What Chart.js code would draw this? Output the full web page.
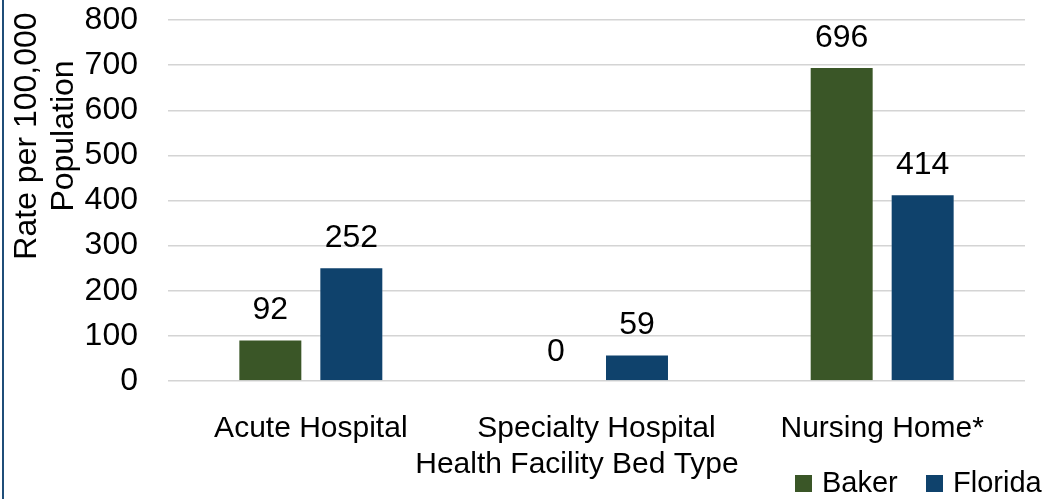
<!DOCTYPE html>
<html>
<head>
<meta charset="utf-8">
<script src="https://cdn.jsdelivr.net/npm/chart.js@4"></script>
<style>
  html, body { margin: 0; padding: 0; background: #fff; }
  #wrap { width: 1047px; height: 499px; position: relative; }
</style>
</head>
<body>
<div id="wrap"><canvas id="chart"></canvas></div>
<script>
// datos del grafico
const categories = ['Acute Hospital', 'Specialty Hospital', 'Nursing Home*'];
const bakerValues = [92, 0, 696];
const floridaValues = [252, 59, 414];
const yTicks = [0, 100, 200, 300, 400, 500, 600, 700, 800];

const FONT = '"Liberation Sans", Arial, sans-serif';
const green = '#3a5627', blue = '#0f426c';

// titulos, etiquetas, leyenda y borde izquierdo
const extras = {
    id: 'extras',
    afterDatasetsDraw(chart) {
        const ctx = chart.ctx;
        ctx.save();
        ctx.fillStyle = '#000';
        ctx.font = '32px ' + FONT;
        ctx.textAlign = 'center';
        ctx.textBaseline = 'alphabetic';
        chart.data.datasets.forEach((ds, i) => {
            chart.getDatasetMeta(i).data.forEach((bar, j) => {
                ctx.fillText(String(ds.data[j]), bar.x, bar.y - 20);
            });
        });

        // eixo Y
        ctx.save();
        ctx.translate(0, 136);
        ctx.rotate(-Math.PI / 2);
        ctx.fillText('Rate per 100,000', 0, 36);
        ctx.fillText('Population', 0, 73);
        ctx.restore();

        // eixo X
        ctx.font = '30px ' + FONT;
        ctx.fillText('Health Facility Bed Type', 577, 473);

        // legenda
        ctx.font = '29px ' + FONT;
        ctx.textAlign = 'left';
        const lx = [795, 926];
        chart.data.datasets.forEach((ds, i) => {
            ctx.fillStyle = ds.backgroundColor;
            ctx.fillRect(lx[i], 475, 17, 17);
            ctx.fillStyle = '#000';
            ctx.fillText(ds.label, lx[i] + 27, 492);
        });

        ctx.fillStyle = '#1f4e79';
        ctx.fillRect(2, 0, 2, chart.height);
        ctx.restore();
    }
};

new Chart(document.getElementById('chart'), {
    type: 'bar',
    data: {
        labels: categories,
        datasets: [
            { label: 'Baker', data: bakerValues, backgroundColor: green, borderColor: 'rgba(255,255,255,0.3)', borderWidth: 1 },
            { label: 'Florida', data: floridaValues, backgroundColor: blue, borderColor: 'rgba(255,255,255,0.3)', borderWidth: 1 }
        ]
    },
    options: {
        responsive: true, maintainAspectRatio: false, animation: false,
        devicePixelRatio: 1,
        datasets: { bar: { categoryPercentage: 0.567, barPercentage: 0.79 } },
        layout: { padding: { top: 20, right: 22, left: 0, bottom: 0 } },
        scales: {
            x: {
                grid: { display: false },
                border: { display: false },
                ticks: { color: '#000', font: { family: FONT, size: 30 }, padding: 22, maxRotation: 0 },
                afterFit: s => { s.height = 118; }
            },
            y: {
                min: 0, max: 800,
                afterBuildTicks: s => { s.ticks = yTicks.map(v => ({ value: v })); },
                grid: { color: '#d4d4d4', lineWidth: 1.5, drawTicks: false },
                border: { display: false },
                ticks: { color: '#000', font: { family: FONT, size: 32 }, padding: 30, autoSkip: false },
                afterFit: s => { s.width = 168; s.paddingTop = 0; s.paddingBottom = 0; }
            }
        },
        plugins: {
            legend: { display: false },
            tooltip: { enabled: false }
        }
    },
    plugins: [extras]
});
</script>
</body>
</html>
